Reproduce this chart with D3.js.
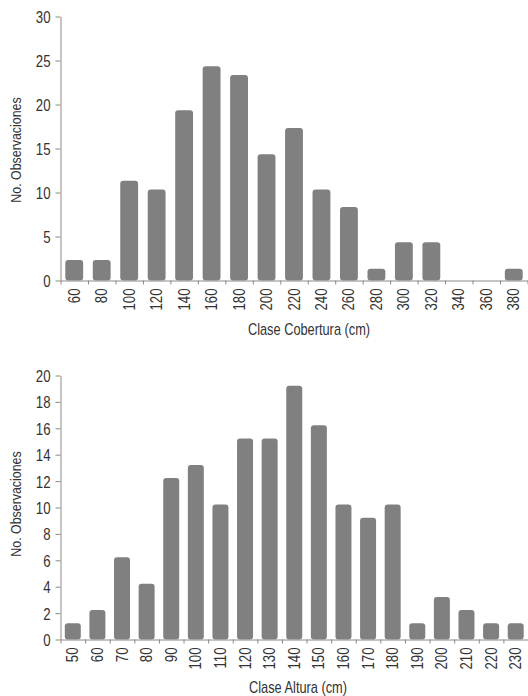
<!DOCTYPE html>
<html>
<head>
<meta charset="utf-8">
<script src="https://cdn.jsdelivr.net/npm/d3@7"></script>
<style>
    body { margin: 0; background: #fff; }
    svg { display: block; }
    text { font-family: "Liberation Sans", Arial, sans-serif; fill: #333; }
</style>
</head>
<body>
<div id="chart"></div>
<script>
// Histogram data (counts per class)
const coberturaClasses = ["60", "80", "100", "120", "140", "160", "180", "200", "220", "240", "260", "280", "300", "320", "340", "360", "380"];
const coberturaCounts = [2, 2, 11, 10, 19, 24, 23, 14, 17, 10, 8, 1, 4, 4, 0, 0, 1];
const coberturaTicks = [0, 5, 10, 15, 20, 25, 30];

const alturaClasses = ["50", "60", "70", "80", "90", "100", "110", "120", "130", "140", "150", "160", "170", "180", "190", "200", "210", "220", "230"];
const alturaCounts = [1, 2, 6, 4, 12, 13, 10, 15, 15, 19, 16, 10, 9, 10, 1, 3, 2, 1, 1];
const alturaTicks = [0, 2, 4, 6, 8, 10, 12, 14, 16, 18, 20];

const width = 528, height = 696;
const barColor = "#808080";
const axisColor = "#8a8a8a";
const narrow = "scale(0.8,1)";   // squeeze the sans font to look like a narrow face

const svg = d3.select("#chart").append("svg")
    .attr("width", width)
    .attr("height", height);

function drawHistogram(opts) {
    const g = svg.append("g");

    const x = d3.scaleBand()
        .domain(opts.classes)
        .range([opts.x0, opts.x1])
        .paddingInner(0.35)
        .paddingOuter(0.175);

    const y = d3.scaleLinear()
        .domain([0, opts.ticks[opts.ticks.length - 1]])
        .range([opts.y0, opts.y1]);

    // bars (rounded tops, empty classes drawn as nothing)
    const data = opts.classes.map((c, i) => ({c: c, v: opts.counts[i]}));
    g.selectAll(".bar")
        .data(data.filter(d => d.v > 0))
        .enter().append("rect")
        .attr("class", "bar")
        .attr("x", d => x(d.c))
        .attr("width", x.bandwidth())
        .attr("y", d => y(d.v) - 3)
        .attr("height", d => y(0) - y(d.v) + 3)
        .attr("rx", 3)
        .style("fill", barColor);

    // y axis
    const yAxis = g.append("g")
        .attr("transform", "translate(" + opts.x0 + ",0)")
        .call(d3.axisLeft(y).tickValues(opts.ticks).tickSize(5).tickSizeOuter(0));
    yAxis.select(".domain").style("stroke", axisColor);
    yAxis.selectAll("line").style("stroke", axisColor);
    yAxis.selectAll("text")
        .attr("x", null).attr("dy", null)
        .attr("transform", "translate(-10,6) " + narrow)
        .style("font-size", "16.5px")
        .style("fill", "#333")
        .style("font-family", null);

    // x axis: boundary ticks between classes
    const xEdges = d3.scaleLinear().domain([0, opts.classes.length]).range([opts.x0, opts.x1]);
    const xAxis = g.append("g")
        .attr("transform", "translate(0," + opts.y0 + ")")
        .call(d3.axisBottom(xEdges)
            .tickValues(d3.range(opts.classes.length + 1))
            .tickSize(4).tickSizeOuter(0)
            .tickFormat(""));
    xAxis.select(".domain").style("stroke", axisColor);
    xAxis.selectAll("line").style("stroke", axisColor);

    // x axis: rotated class labels
    const xLabels = g.append("g")
        .attr("transform", "translate(0," + opts.y0 + ")")
        .call(d3.axisBottom(x).tickSize(0));
    xLabels.select(".domain").remove();
    xLabels.selectAll("text")
        .attr("x", null).attr("y", null).attr("dy", null)
        .attr("transform", "translate(5.5,8) rotate(-90) " + narrow)
        .attr("text-anchor", "end")
        .style("font-size", "16.5px")
        .style("fill", "#333")
        .style("font-family", null);

    // titles
    g.append("text")
        .attr("transform", "translate(" + opts.xTitleX + "," + opts.xTitleY + ") " + narrow)
        .attr("text-anchor", "middle")
        .style("font-size", "16px")
        .text(opts.xTitle);

    g.append("text")
        .attr("transform", "translate(21," + opts.yTitleY + ") rotate(-90) " + narrow)
        .attr("text-anchor", "middle")
        .style("font-size", "15.5px")
        .text("No. Observaciones");
}

drawHistogram({
    classes: coberturaClasses, counts: coberturaCounts, ticks: coberturaTicks,
    x0: 60.5, x1: 527.5, y0: 280.5, y1: 16.5,
    xTitle: "Clase Cobertura (cm)", xTitleX: 309, xTitleY: 335,
    yTitleY: 150
});

drawHistogram({
    classes: alturaClasses, counts: alturaCounts, ticks: alturaTicks,
    x0: 60.5, x1: 528, y0: 639.5, y1: 375.5,
    xTitle: "Clase Altura (cm)", xTitleX: 298, xTitleY: 693,
    yTitleY: 504
});
</script>
</body>
</html>
